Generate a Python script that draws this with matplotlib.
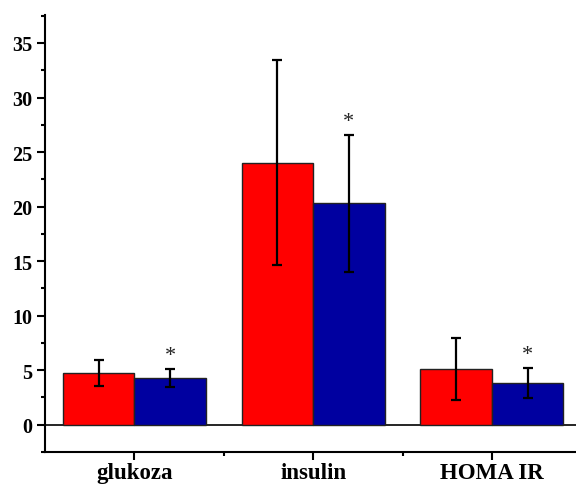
import numpy as np
import matplotlib
matplotlib.use('Agg')
import matplotlib.pyplot as plt
from matplotlib.ticker import MultipleLocator, FixedLocator

# ------- data
categories = ['glukoza', 'insulin', 'HOMA IR']
red_vals = [4.75, 24.0, 5.1]
red_err = [1.2, 9.4, 2.82]
blue_vals = [4.26, 20.3, 3.78]
blue_err = [0.84, 6.3, 1.38]

plt.rcParams['font.family'] = ['Liberation Serif', 'DejaVu Serif']
plt.rcParams['font.weight'] = 'bold'

f, ax = plt.subplots(figsize=(5.76, 4.89), dpi=100)
f.subplots_adjust(left=0.078, right=1.0, bottom=0.074, top=0.968)

x = np.arange(len(categories))
w = 0.4
ax.bar(x - w/2, red_vals, w, color='#ff0000', edgecolor='#222222', linewidth=1)
ax.bar(x + w/2, blue_vals, w, color='#0000a0', edgecolor='#222222', linewidth=1)
ax.errorbar(x - w/2, red_vals, yerr=red_err, fmt='none', ecolor='black',
            elinewidth=1.6, capsize=3.3, capthick=1.6)
ax.errorbar(x + w/2, blue_vals, yerr=blue_err, fmt='none', ecolor='black',
            elinewidth=1.6, capsize=3.3, capthick=1.6)

# significance stars above the blue bars
for xi, v, e in zip(x, blue_vals, blue_err):
    ax.text(xi + w/2, v + e + 0.35, '*', ha='center', va='bottom',
            fontsize=16, fontweight='normal', color='#222222')

ax.axhline(0, color='black', linewidth=1.2, zorder=0.5)

ax.set_xlim(-0.5, 2.47)
ax.set_ylim(-2.5, 37.6)
ax.set_xticks(x)
ax.set_xticklabels(categories, fontsize=16.5)
ax.xaxis.set_minor_locator(FixedLocator([0.5, 1.5]))
ax.yaxis.set_major_locator(FixedLocator([0, 5, 10, 15, 20, 25, 30, 35]))
ax.yaxis.set_minor_locator(MultipleLocator(2.5))

for s in ['top', 'right']:
    ax.spines[s].set_visible(False)
for s in ['left', 'bottom']:
    ax.spines[s].set_linewidth(1.5)
ax.tick_params(axis='y', which='major', length=6, width=1.5, direction='out',
               labelsize=14.5, pad=3)
ax.tick_params(axis='x', which='major', length=6, width=1.5, direction='out', pad=1)
ax.tick_params(axis='both', which='minor', length=3, width=1.5, direction='out')
for lab in ax.get_xticklabels() + ax.get_yticklabels():
    lab.set_fontweight('bold')

plt.savefig('out.png', dpi=100)
